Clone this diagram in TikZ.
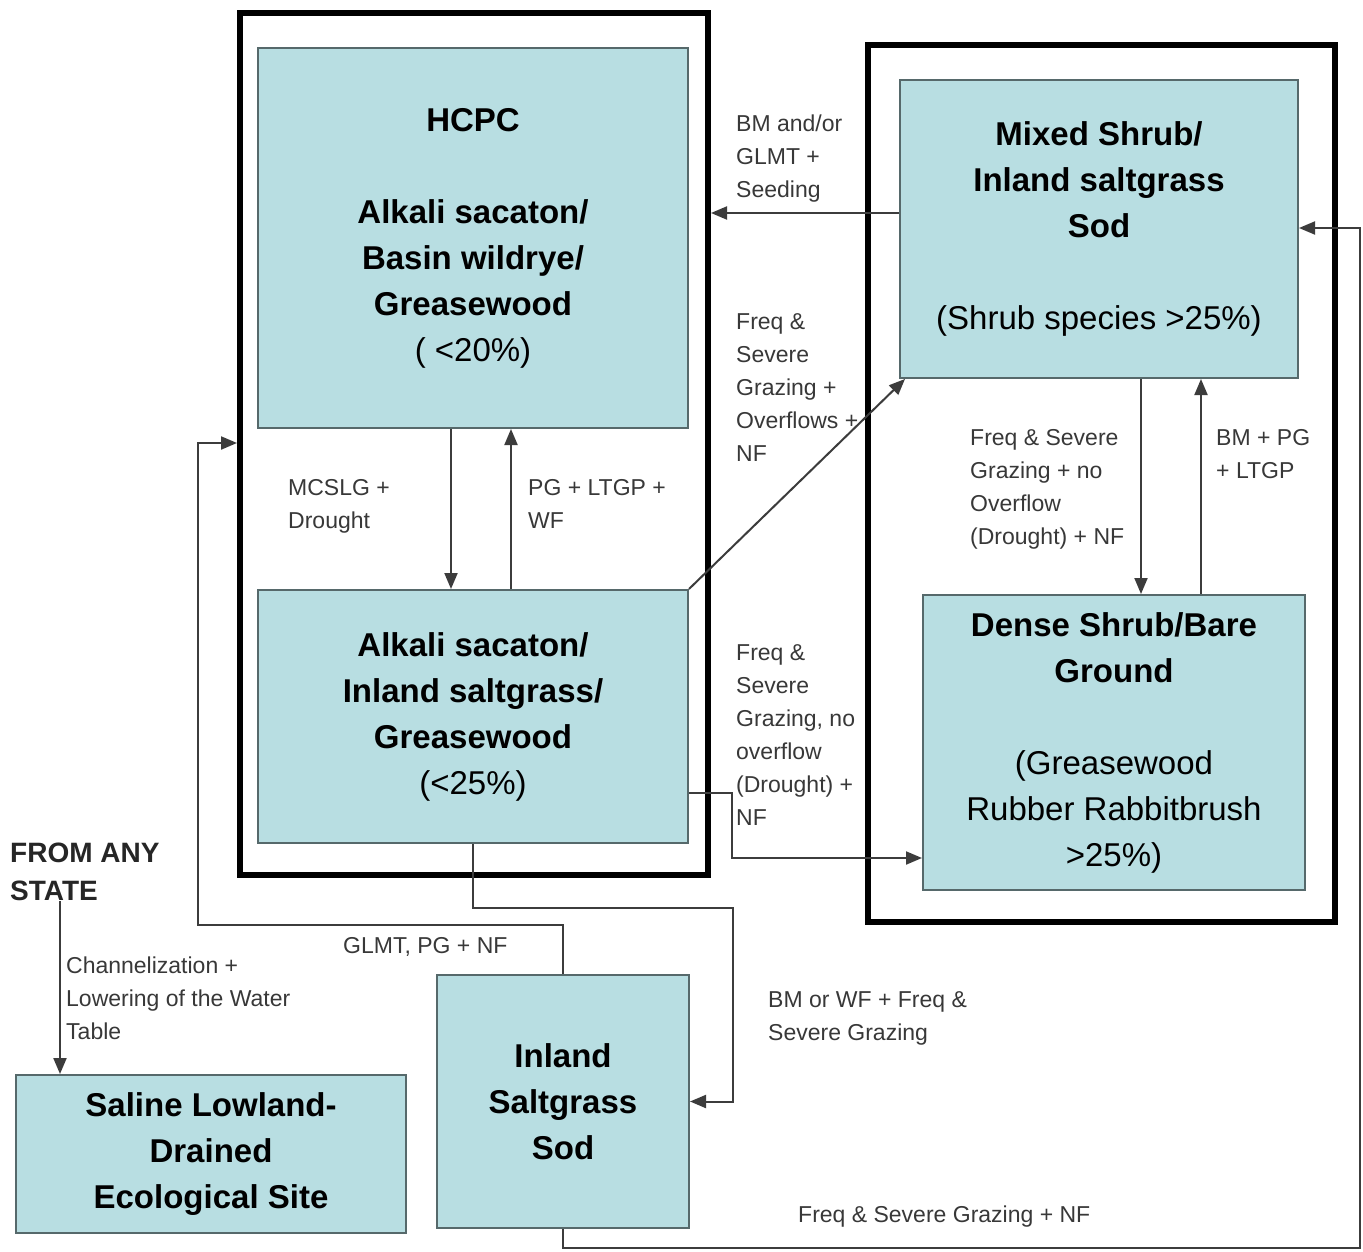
\documentclass[tikz,border=0pt]{standalone}
\usepackage{fontspec}
\setmainfont{Liberation Sans}
\usetikzlibrary{arrows.meta}
\definecolor{boxfill}{HTML}{B8DEE2}
\definecolor{boxedge}{HTML}{56696B}
\definecolor{linegray}{HTML}{3C3C3C}
\definecolor{labelgray}{HTML}{383838}
\tikzset{
  state/.style={draw=boxedge, line width=2pt, fill=boxfill, align=center, inner sep=0pt,
    font=\fontsize{33}{46}\selectfont\bfseries},
  group/.style={draw=black, line width=6pt, inner sep=0pt},
  conn/.style={draw=linegray, line width=2pt, -{Triangle[length=16pt,width=13pt]}},
  lbl/.style={anchor=north west, align=left, inner sep=0pt, text=labelgray,
    font=\fontsize{23}{33}\selectfont},
}
\begin{document}
\begin{tikzpicture}[x=1pt,y=-1pt]
\useasboundingbox[fill=white] (0,0) rectangle (1363,1252);
% groups
\node[group, minimum width=468pt, minimum height=862pt] (refState) at (474,444) {};
\node[group, minimum width=467pt, minimum height=877pt] (shrubState) at (1101.5,483.5) {};
% states
\node[state, minimum width=430pt, minimum height=380pt] (hcpc) at (473,238)
  {HCPC\\[46pt]Alkali sacaton/\\Basin wildrye/\\Greasewood\\{\mdseries ( <20\%)}};
\node[state, minimum width=430pt, minimum height=253pt] (alk) at (473,716.5)
  {Alkali sacaton/\\Inland saltgrass/\\Greasewood\\{\mdseries (<25\%)}};
\node[state, minimum width=398pt, minimum height=298pt] (mixed) at (1099,229)
  {Mixed Shrub/\\Inland saltgrass\\Sod\\[46pt]{\mdseries (Shrub species >25\%)}};
\node[state, minimum width=382pt, minimum height=295pt] (dense) at (1114,742.5)
  {Dense Shrub/Bare\\Ground\\[46pt]{\mdseries (Greasewood}\\{\mdseries Rubber Rabbitbrush}\\{\mdseries >25\%)}};
\node[state, minimum width=252pt, minimum height=253pt] (inland) at (563,1101.5)
  {Inland\\Saltgrass\\Sod};
\node[state, minimum width=390pt, minimum height=158pt] (saline) at (211,1154)
  {Saline Lowland-\\Drained\\Ecological Site};
\node[anchor=north west, align=left, inner sep=0pt, text=black!85,
  font=\fontsize{28}{38}\selectfont\bfseries] (from) at (10,843) {FROM ANY\\STATE};
% junction points
\coordinate (j1) at (732,793);
\coordinate (j2) at (733,908);
\coordinate (j3) at (198,925);
\coordinate (j4) at (198,443);
\coordinate (j5) at (1360,1248);
\coordinate (j6) at (1360,228);
% connectors
\draw[conn] ([xshift=-22pt]hcpc.south) -- ([xshift=-22pt]hcpc.south |- alk.north);
\draw[conn] ([xshift=38pt]alk.north) -- ([xshift=38pt]alk.north |- hcpc.south);
\draw[conn] ([yshift=16pt]mixed.west) -- ([yshift=16pt]mixed.west -| refState.east);
\draw[conn] (alk.north east) -- ([xshift=6pt]mixed.south west);
\draw[conn] (alk.east |- j1) -- (j1) |- ([yshift=-115.5pt]dense.west);
\draw[conn] ([xshift=42pt]mixed.south) -- ([xshift=42pt]mixed.south |- dense.north);
\draw[conn] ([xshift=87pt]dense.north) -- ([xshift=87pt]dense.north |- mixed.south);
\draw[conn] (alk.south) |- (j2) |- (inland.east);
\draw[conn] (inland.north) |- (j3) -- (j4) -- (j4 -| refState.west);
\draw[conn] (inland.south) |- (j5) -- (j6) -- (j6 -| mixed.east);
\draw[conn] ([xshift=50pt]from.south west) -- ([xshift=50pt]from.south west |- saline.north);
% labels
\node[lbl] (l1) at (736,115) {BM and/or\\GLMT +\\Seeding};
\node[lbl] (l2) at (736,313) {Freq \&\\Severe\\Grazing +\\Overflows +\\NF};
\node[lbl] (l3) at (288,479) {MCSLG +\\Drought};
\node[lbl] (l4) at (528,479) {PG + LTGP +\\WF};
\node[lbl] (l5) at (970,429) {Freq \& Severe\\Grazing + no\\Overflow\\(Drought) + NF};
\node[lbl] (l6) at (1216,429) {BM + PG\\+ LTGP};
\node[lbl] (l7) at (736,644) {Freq \&\\Severe\\Grazing, no\\overflow\\(Drought) +\\NF};
\node[lbl] (l8) at (343,937) {GLMT, PG + NF};
\node[lbl] (l9) at (768,991) {BM or WF + Freq \&\\Severe Grazing};
\node[lbl] (l10) at (66,957) {Channelization +\\Lowering of the Water\\Table};
\node[lbl] (l11) at (798,1206) {Freq \& Severe Grazing + NF};
\end{tikzpicture}
\end{document}
